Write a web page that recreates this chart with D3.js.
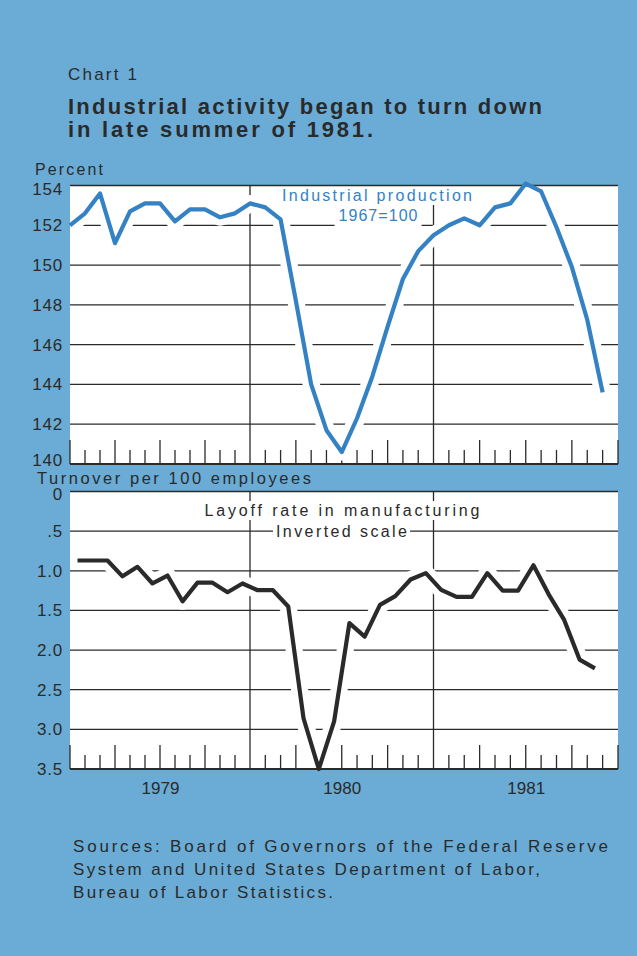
<!DOCTYPE html>
<html><head><meta charset="utf-8">
<script src="https://cdn.jsdelivr.net/npm/d3@7"></script>
<style>html,body{margin:0;padding:0;background:#6aacd6;} svg{display:block;}</style>
</head><body><svg id="c" width="637" height="956"></svg>
<script>
// ---- data (monthly, Jan 1979 .. Dec 1981) ----
const industrialProduction = [152.0, 152.6, 153.6, 151.1, 152.7, 153.1, 153.1, 152.2, 152.8, 152.8, 152.4, 152.6,
  153.1, 152.9, 152.3, 148.2, 144.0, 141.7, 140.6, 142.3, 144.4, 146.9, 149.3, 150.7,
  151.5, 152.0, 152.35, 152.0, 152.9, 153.1, 154.1, 153.7, 151.9, 149.9, 147.25, 143.6];
const layoffRate = [0.87, 0.87, 0.87, 1.07, 0.95, 1.16, 1.06, 1.385, 1.15, 1.15, 1.27, 1.16,
  1.245, 1.245, 1.45, 2.86, 3.5, 2.9, 1.66, 1.83, 1.43, 1.32, 1.11, 1.03,
  1.24, 1.33, 1.33, 1.03, 1.25, 1.25, 0.93, 1.30, 1.62, 2.12, 2.23];
const years = ["1979", "1980", "1981"];
const topTicks = [140, 142, 144, 146, 148, 150, 152, 154];
const topTickLabels = ["140", "142", "144", "146", "148", "150", "152", "154"];
const bottomTicks = [0, 0.5, 1, 1.5, 2, 2.5, 3, 3.5];
const bottomTickLabels = ["0", ".5", "1.0", "1.5", "2.0", "2.5", "3.0", "3.5"];
const monthCount = 36;

// ---- styles ----
const BG = "#6aacd6", INK = "#2a2a2a", BLUE = "#3482c4", FONT = "'Liberation Sans', Arial, Helvetica, sans-serif";
const svg = d3.select("#c").attr("font-family", FONT);
svg.append("rect").attr("width", 637).attr("height", 956).attr("fill", BG);

const x = d3.scaleLinear().domain([0, 12, 24, 36]).range([70, 250, 433.5, 618]);
const yTop = d3.scaleLinear().domain([140, 154]).range([464, 185.5]);
const yBot = d3.scaleLinear().domain([0, 3.5]).range([491.5, 769]);
const X0 = x(0), X1 = x(monthCount);

function txt(g, s, px, py, opts) {
  const t = g.append("text").attr("x", px).attr("y", py).text(s)
    .attr("font-size", opts.size).attr("fill", opts.fill || INK)
    .attr("font-weight", opts.weight || "normal")
    .attr("text-anchor", opts.anchor || "start");
  if (opts.len) t.attr("textLength", opts.len).attr("lengthAdjust", "spacing");
  return t;
}

function panel(cfg) {
  const y = cfg.y;
  const top = Math.min(...y.range()), bot = Math.max(...y.range());
  const g = svg.append("g");
  const gGrid = g.append("g"), gMask = g.append("g"), gHalo = g.append("g"),
        gFrame = g.append("g"), gLine = g.append("g"), gText = g.append("g");
  g.insert("rect", ":first-child").attr("x", X0).attr("y", top).attr("width", X1 - X0).attr("height", bot - top).attr("fill", "#fff");
  const clipId = "clip" + cfg.id;
  svg.append("defs").append("clipPath").attr("id", clipId).append("rect")
    .attr("x", X0).attr("y", top).attr("width", X1 - X0).attr("height", bot - top);

  const inner = cfg.ticks.filter(v => y(v) > top + 0.5 && y(v) < bot - 0.5);
  gGrid.selectAll("line.grid").data(inner).join("line")
    .attr("x1", X0).attr("x2", X1).attr("y1", d => y(d)).attr("y2", d => y(d))
    .attr("stroke", INK).attr("stroke-width", 1.3);
  const months = d3.range(0, monthCount + 1);
  gGrid.selectAll("line.tick").data(months).join("line")
    .attr("x1", d => x(d)).attr("x2", d => x(d)).attr("y1", bot)
    .attr("y2", d => (d % 12 === 0 && d > 0 && d < monthCount) ? top : bot - (d % 3 === 0 ? 24 : 14))
    .attr("stroke", INK).attr("stroke-width", 1.3);

  // y tick labels through an axis
  const ax = d3.axisLeft(y).tickValues(cfg.ticks).tickFormat((d, i) => cfg.tickLabels[i]).tickSize(0).tickPadding(7);
  const axG = svg.append("g").attr("transform", `translate(${X0},0)`).call(ax);
  axG.select(".domain").remove();
  axG.selectAll("text").attr("font-size", 17).attr("fill", INK).attr("font-family", FONT).attr("letter-spacing", "0.8px")
    .attr("transform", d => `translate(0,${cfg.labelShift(d)})`);

  // labels with masks
  cfg.labels.forEach(l => {
    const t = txt(gText, l.s, l.x, l.y, {size: 16, fill: l.fill, anchor: "middle", len: l.len});
    const b = t.node().getBBox();
    gMask.append("rect").attr("x", b.x - l.px).attr("y", b.y - 1).attr("width", b.width + 2 * l.px)
      .attr("height", b.height + 2 + (l.extra || 0)).attr("fill", "#fff");
  });

  const line = d3.line().x((d, i) => x(i + cfg.offset)).y(d => y(d));
  gHalo.append("path").datum(cfg.data).attr("d", line).attr("fill", "none")
    .attr("stroke", "#fff").attr("stroke-width", 17).attr("stroke-linejoin", "round")
    .attr("clip-path", `url(#${clipId})`);
  gFrame.append("line").attr("x1", X0).attr("x2", X1).attr("y1", top).attr("y2", top).attr("stroke", INK).attr("stroke-width", 1.5);
  gFrame.append("line").attr("x1", X0).attr("x2", X1).attr("y1", bot).attr("y2", bot).attr("stroke", INK).attr("stroke-width", 2);
  gLine.append("path").datum(cfg.data).attr("d", line).attr("fill", "none")
    .attr("stroke", cfg.color).attr("stroke-width", 4.2).attr("stroke-linejoin", "round");
}

// ---- texts above charts ----
txt(svg, "Chart 1", 68, 79.5, {size: 17, len: 69});
txt(svg, "Industrial activity began to turn down", 68, 114, {size: 22, weight: "bold", len: 474});
txt(svg, "in late summer of 1981.", 68, 137, {size: 22, weight: "bold", len: 305});
txt(svg, "Percent", 35, 174.5, {size: 16, len: 68});
txt(svg, "Turnover per 100 employees", 37, 484, {size: 16.5, len: 274});

panel({id: "t", y: yTop, ticks: topTicks, tickLabels: topTickLabels, data: industrialProduction, offset: 0, color: BLUE,
  labelShift: d => d === 154 ? 3.5 : (d === 140 ? -4 : 0),
  labels: [
    {s: "Industrial production", x: 377, y: 201, len: 190, fill: BLUE, px: 3},
    {s: "1967=100", x: 378, y: 221, len: 79, fill: BLUE, px: 4, extra: 2}
  ]});
panel({id: "b", y: yBot, ticks: bottomTicks, tickLabels: bottomTickLabels, data: layoffRate, offset: 0.5, color: INK,
  labelShift: d => d === 0 ? 3 : 0,
  labels: [
    {s: "Layoff rate in manufacturing", x: 342, y: 516, len: 275, fill: INK, px: 3},
    {s: "Inverted scale", x: 341.5, y: 537, len: 131, fill: INK, px: 3}
  ]});

// year labels through an axis
const yearAxis = d3.axisBottom(x).tickValues([6, 18, 30]).tickFormat((d, i) => years[i]).tickSize(0).tickPadding(13);
const yg = svg.append("g").attr("transform", `translate(0,${yBot.range()[1]})`).call(yearAxis);
yg.select(".domain").remove();
yg.selectAll("text").attr("font-size", 17).attr("fill", INK).attr("font-family", FONT);

// sources
txt(svg, "Sources:  Board of Governors of the Federal Reserve", 73, 852, {size: 17, len: 535});
txt(svg, "System and United States Department of Labor,", 73, 875, {size: 17, len: 467});
txt(svg, "Bureau of Labor Statistics.", 73, 898, {size: 17, len: 260});
</script></body></html>
